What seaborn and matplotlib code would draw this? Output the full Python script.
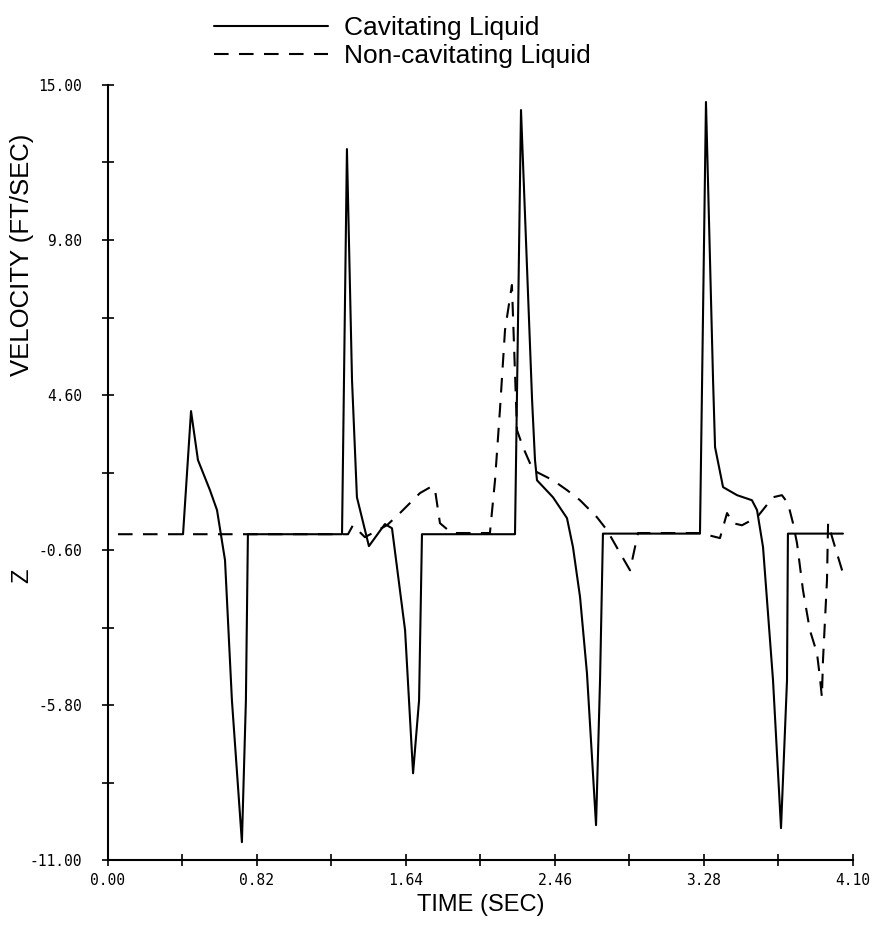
import numpy as np
import pandas as pd
import matplotlib
matplotlib.use("Agg")
import matplotlib.pyplot as plt
import seaborn as sns

# cavitating liquid (solid line)
cav_t = [0.413, 0.457, 0.495, 0.561, 0.600, 0.644, 0.682, 0.737, 0.759, 0.770,
         1.288, 1.315, 1.343, 1.370, 1.436, 1.524, 1.563, 1.635, 1.679, 1.712, 1.728,
         2.240, 2.273, 2.334, 2.350, 2.361, 2.449, 2.526, 2.559, 2.598, 2.636, 2.686, 2.708, 2.724,
         3.258, 3.291, 3.330, 3.341, 3.385, 3.462, 3.544, 3.572, 3.605, 3.660, 3.704, 3.737, 3.742,
         4.045]
cav_v = [-0.07, 4.06, 2.42, 1.41, 0.74, -0.94, -5.64, -10.40, -5.64, -0.07,
         -0.07, 12.85, 5.10, 1.17, -0.47, 0.27, 0.13, -3.29, -8.09, -5.64, -0.07,
         -0.07, 14.16, 4.43, 2.42, 1.74, 1.17, 0.47, -0.50, -2.18, -4.73, -9.83, -4.97, -0.05,
         -0.05, 14.43, 5.10, 2.85, 1.51, 1.24, 1.07, 0.74, -0.50, -4.97, -9.93, -4.97, -0.05,
         -0.05]

# non-cavitating liquid (dashed line)
non_t = [0.055, 1.321, 1.348, 1.414, 1.535, 1.607, 1.717, 1.783, 1.800, 1.827, 1.860, 1.893,
         2.102, 2.130, 2.157, 2.185, 2.223, 2.251, 2.284, 2.339, 2.449, 2.526, 2.598, 2.691,
         2.746, 2.818, 2.873, 2.917, 3.258, 3.368, 3.407, 3.440, 3.489, 3.572, 3.660, 3.709,
         3.742, 3.770, 3.792, 3.825, 3.863, 3.902, 3.918, 3.929, 3.935, 3.957, 3.963, 3.990, 4.045]
non_v = [-0.07, -0.07, 0.23, -0.17, 0.23, 0.64, 1.31, 1.54, 1.41, 0.30, 0.13, -0.03,
         -0.03, 1.74, 4.09, 6.78, 8.29, 3.42, 2.85, 2.08, 1.74, 1.41, 1.07, 0.50,
         0.07, -0.70, -1.28, -0.03, -0.03, -0.20, 0.64, 0.30, 0.23, 0.50, 1.17, 1.24,
         0.97, 0.30, -0.37, -1.95, -3.29, -4.06, -4.87, -5.54, -4.30, -1.61, 0.30, -0.27, -1.38]

xticks = [0.00, 0.82, 1.64, 2.46, 3.28, 4.10]
yticks = [-11.00, -5.80, -0.60, 4.60, 9.80, 15.00]

df = pd.concat([
    pd.DataFrame({"time": cav_t, "vel": cav_v, "series": "Cavitating Liquid"}),
    pd.DataFrame({"time": non_t, "vel": non_v, "series": "Non-cavitating Liquid"}),
], ignore_index=True)

sns.set_style("ticks")
plt.rcParams["font.family"] = ["Liberation Sans", "DejaVu Sans"]
plt.rcParams["text.color"] = "black"

fig = plt.figure(figsize=(8.94, 9.34), dpi=100)
ax = fig.add_axes([0.1208, 0.0792, 0.8333, 0.8298])

sns.lineplot(data=df, x="time", y="vel", style="series", color="black",
             dashes={"Cavitating Liquid": "", "Non-cavitating Liquid": (7, 5)},
             estimator=None, sort=False, linewidth=1.5, ax=ax)

ax.set_xlim(0, 4.10)
ax.set_ylim(-11, 15)
ax.set_xticks(xticks)
ax.set_yticks(yticks)
ax.set_xticks([0.41, 1.23, 2.05, 2.87, 3.69], minor=True)
ax.set_yticks([-8.4, -3.2, 2.0, 7.2, 12.4], minor=True)
ax.set_xticklabels(["%.2f" % v for v in xticks], family="DejaVu Sans Mono", fontsize=10.5)
ax.set_yticklabels(["%.2f" % v for v in yticks], family="DejaVu Sans Mono", fontsize=10.5)
ax.tick_params(which="both", direction="inout", length=9, width=1.2, color="black",
               labelcolor="black", left=True, bottom=True)
ax.tick_params(axis="y", pad=14)
ax.tick_params(axis="x", pad=5)
sns.despine(ax=ax)
for s in ["left", "bottom"]:
    ax.spines[s].set_color("black")
    ax.spines[s].set_linewidth(1.5)

ax.set_xlabel("")
ax.set_ylabel("")
fig.text(0.538, 0.031, "TIME (SEC)", ha="center", va="center", fontsize=17)
fig.text(0.025, 0.727, "VELOCITY (FT/SEC)", rotation=90, ha="center", va="center", fontsize=18.5)
fig.text(0.025, 0.384, "Z", rotation=90, ha="center", va="center", fontsize=17)

handles, labels = ax.get_legend_handles_labels()
ax.legend_.remove()
fig.legend(handles, labels, loc="upper left", bbox_to_anchor=(0.222, 1.0),
           frameon=False, fontsize=19, handlelength=4.3, handletextpad=0.6,
           labelspacing=0.15, borderpad=0.1)

fig.savefig("out.png", dpi=100)
